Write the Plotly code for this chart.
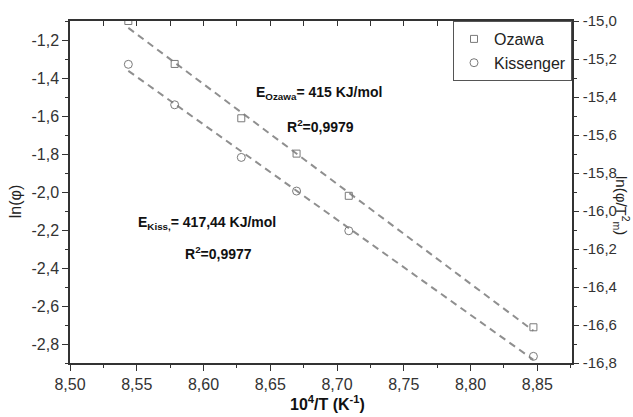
import numpy as np
import plotly.graph_objects as go

# ---- data ----
inv_T = [8.5437, 8.5784, 8.6283, 8.6697, 8.7088, 8.8471]
ln_phi_ozawa = [-1.100, -1.326, -1.612, -1.798, -2.020, -2.712]
ln_phi_T2_kiss = [-15.228, -15.441, -15.718, -15.895, -16.104, -16.765]

x_ticks = [8.50, 8.55, 8.60, 8.65, 8.70, 8.75, 8.80, 8.85]
x_ticktext = ["8,50", "8,55", "8,60", "8,65", "8,70", "8,75", "8,80", "8,85"]
y_ticks = [-1.2, -1.4, -1.6, -1.8, -2.0, -2.2, -2.4, -2.6, -2.8]
y_ticktext = ["-1,2", "-1,4", "-1,6", "-1,8", "-2,0", "-2,2", "-2,4", "-2,6", "-2,8"]
y2_ticks = [-15.0, -15.2, -15.4, -15.6, -15.8, -16.0, -16.2, -16.4, -16.6, -16.8]
y2_ticktext = ["-15,0", "-15,2", "-15,4", "-15,6", "-15,8", "-16,0", "-16,2", "-16,4", "-16,6", "-16,8"]

FONT = "Arial, 'Liberation Sans', sans-serif"
AX = "#333333"
GRAY = "#7a7a7a"

# linear fits (regression of the read points)
xs = np.array(inv_T)
p_oz = np.polyfit(xs, np.array(ln_phi_ozawa), 1)
p_ki = np.polyfit(xs, np.array(ln_phi_T2_kiss), 1)
fit_x = [min(inv_T), max(inv_T)]

fig = go.Figure()
fig.add_trace(go.Scatter(x=fit_x, y=list(np.polyval(p_oz, fit_x)), mode="lines",
                         line=dict(color="#8f8f8f", width=2, dash="7px,5px"),
                         showlegend=False, hoverinfo="skip"))
fig.add_trace(go.Scatter(x=fit_x, y=list(np.polyval(p_ki, fit_x)), mode="lines",
                         yaxis="y2",
                         line=dict(color="#8f8f8f", width=2, dash="7px,5px"),
                         showlegend=False, hoverinfo="skip"))
fig.add_trace(go.Scatter(x=inv_T, y=ln_phi_ozawa, mode="markers", name="Ozawa",
                         marker=dict(symbol="square-open", size=7, color=GRAY,
                                     line=dict(width=1, color=GRAY))))
fig.add_trace(go.Scatter(x=inv_T, y=ln_phi_T2_kiss, mode="markers", name="Kissenger",
                         yaxis="y2",
                         marker=dict(symbol="circle-open", size=8, color=GRAY,
                                     line=dict(width=1, color=GRAY))))
# invisible trace to bring up the top axis
fig.add_trace(go.Scatter(x=fit_x, y=[None, None], xaxis="x2", showlegend=False,
                         hoverinfo="skip", mode="lines"))

fig.update_layout(
    width=633, height=417,
    margin=dict(l=70, r=61, t=17, b=54),
    paper_bgcolor="white", plot_bgcolor="white",
    font=dict(family=FONT, size=16, color="#222222"),
    xaxis=dict(range=[8.5, 8.876], tickmode="array", tickvals=x_ticks, ticktext=x_ticktext,
               ticks="outside", ticklen=6, tickwidth=1.3, tickcolor=AX,
               showline=True, linecolor=AX, linewidth=1.5, showgrid=False, zeroline=False,
               minor=dict(tickmode="linear", tick0=8.5, dtick=0.025, ticks="outside",
                          ticklen=3, tickwidth=1.2, tickcolor=AX, showgrid=False),
               tickfont=dict(size=16, color="#333333")),
    xaxis2=dict(range=[8.5, 8.876], overlaying="x", side="top", showticklabels=False,
                tickmode="linear", tick0=8.5, dtick=0.025, ticks="inside", ticklen=5,
                tickwidth=1.2, tickcolor=AX, showline=True, linecolor=AX, linewidth=1.5,
                showgrid=False, zeroline=False),
    yaxis=dict(range=[-2.9, -1.1], tickmode="array", tickvals=y_ticks, ticktext=y_ticktext,
               ticks="outside", ticklen=6, tickwidth=1.3, tickcolor=AX,
               showline=True, linecolor=AX, linewidth=1.5, showgrid=False, zeroline=False,
               minor=dict(tickmode="linear", tick0=-1.1, dtick=0.1, ticks="outside",
                          ticklen=3, tickwidth=1.2, tickcolor=AX, showgrid=False),
               tickfont=dict(size=16, color="#333333")),
    yaxis2=dict(range=[-16.8, -15.0], overlaying="y", side="right",
                tickmode="array", tickvals=y2_ticks, ticktext=y2_ticktext,
                ticks="outside", ticklen=5, tickwidth=1.3, tickcolor=AX, ticklabelstandoff=1,
                showline=True, linecolor=AX, linewidth=1.5, showgrid=False, zeroline=False,
                minor=dict(tickmode="linear", tick0=-15.0, dtick=0.1, ticks="outside",
                           ticklen=3, tickwidth=1.2, tickcolor=AX, showgrid=False),
                tickfont=dict(size=15, color="#333333")),
    legend=dict(x=1, y=1, xanchor="right", yanchor="top", bgcolor="white",
                bordercolor="#555555", borderwidth=1, font=dict(size=16, color="#222222"),
                itemwidth=30, tracegroupgap=0),
    showlegend=True,
)

ann_font = dict(family=FONT, size=14, color="#111111")
fig.add_annotation(text="<b>E<sub>Ozawa</sub>= 415 KJ/mol</b>", xref="paper", yref="paper",
                   x=0.3657, y=0.7885, xanchor="left", yanchor="middle", showarrow=False,
                   font=ann_font)
fig.add_annotation(text="<b>R<sup>2</sup>=0,9979</b>", xref="paper", yref="paper",
                   x=0.4273, y=0.6936, xanchor="left", yanchor="middle", showarrow=False,
                   font=ann_font)
fig.add_annotation(text="<b>E<sub>Kiss,</sub>= 417,44 KJ/mol</b>", xref="paper", yref="paper",
                   x=0.1309, y=0.4085, xanchor="left", yanchor="middle", showarrow=False,
                   font=ann_font)
fig.add_annotation(text="<b>R<sup>2</sup>=0,9977</b>", xref="paper", yref="paper",
                   x=0.2243, y=0.322, xanchor="left", yanchor="middle", showarrow=False,
                   font=ann_font)
# axis titles
fig.add_annotation(text="<b>10<sup>4</sup>/T (K<sup>-1</sup>)</b>", xref="paper", yref="paper",
                   x=0.513, y=-0.118, xanchor="center", yanchor="middle", showarrow=False,
                   font=dict(family=FONT, size=16, color="#111111"))
fig.add_annotation(text="ln(\u03c6)", xref="paper", yref="paper", textangle=-90,
                   x=-0.107, y=0.471, xanchor="center", yanchor="middle", showarrow=False,
                   font=dict(family=FONT, size=16, color="#222222"))
fig.add_annotation(text="ln(\u03c6/T<sup>2</sup><sub>m</sub>)", xref="paper", yref="paper",
                   textangle=90, x=1.099, y=0.46, xanchor="center", yanchor="middle",
                   showarrow=False, font=dict(family=FONT, size=15, color="#222222"))

fig.write_html("out.html")
